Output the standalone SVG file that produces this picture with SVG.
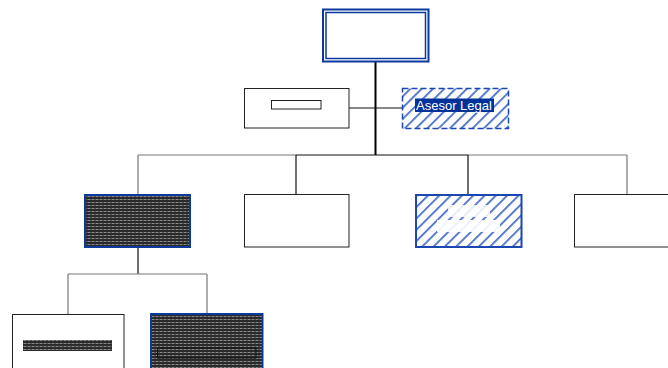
<svg xmlns="http://www.w3.org/2000/svg" width="668" height="368" viewBox="0 0 668 368">
<style>
.plain{fill:#fff;stroke:#222;stroke-width:1}
.dark{fill:url(#stripes);stroke:#0a3a9c;stroke-width:2}
.hatch{fill:url(#hatch);stroke:#1a47b0;stroke-width:2}
.c-dark{stroke:#111;stroke-width:1.2;fill:none}
.c-grey{stroke:#777;stroke-width:1.2;fill:none}
.c-thick{stroke:#000;stroke-width:2;fill:none}
.lbl{font-family:"Liberation Sans",Arial,sans-serif;font-size:13px;fill:#fff}
</style>
<defs>
<pattern id="stripes" width="4" height="3" patternUnits="userSpaceOnUse">
<rect width="4" height="3" fill="#2a2a2a"/>
<rect y="1" width="2" height="1" fill="#8a8a8a"/>
<rect x="2" y="1" width="2" height="1" fill="#5a5a5a"/>
</pattern>
<pattern id="hatch" width="8" height="8" patternUnits="userSpaceOnUse" patternTransform="rotate(45)">
<rect width="8" height="8" fill="#fff"/>
<rect x="0" y="0" width="1.8" height="8" fill="#4a70c8"/>
</pattern>
</defs>
<g id="connectors">
<path class="c-thick" d="M375.5 62V155"/>
<path class="c-dark" d="M349 108H402"/>
<path class="c-dark" d="M296 155H468"/>
<path class="c-grey" d="M138 155H296M468 155H627"/>
<path class="c-grey" d="M138 155V194M627 155V194"/>
<path class="c-dark" d="M296 155V194M468 155V194"/>
<path class="c-dark" d="M138 247V274"/>
<path class="c-grey" d="M68 274H207M68 274V314M207 274V313"/>
</g>
<g id="node-top">
<rect x="323" y="9.5" width="105.5" height="52" fill="#fff" stroke="#0a3a9c" stroke-width="2"/>
<rect x="326" y="12.5" width="99.5" height="46" fill="none" stroke="#0a3a9c" stroke-width="1.5"/>
</g>
<g id="node-staff-left">
<rect class="plain" x="244.5" y="88.5" width="104.5" height="39.5"/>
<rect class="plain" x="271.5" y="100.5" width="49.5" height="8.5"/>
</g>
<g id="node-asesor-legal">
<rect x="402.5" y="88.5" width="106" height="40" fill="url(#hatch)" stroke="#1a47b0" stroke-width="1.5" stroke-dasharray="6 3"/>
<rect x="415" y="98.5" width="79" height="13.5" fill="#003399"/>
<text class="lbl" x="416" y="110">Asesor Legal</text>
</g>
<g id="node-l2-1">
<rect class="dark" x="85" y="195" width="105" height="52"/>
</g>
<g id="node-l2-2">
<rect class="plain" x="244.5" y="194.5" width="104.5" height="52.5"/>
</g>
<g id="node-l2-3">
<rect class="hatch" x="416" y="195" width="105.5" height="52"/>
<rect x="448" y="205" width="42" height="12" fill="#fff" opacity="0.85"/>
<rect x="437" y="220" width="63" height="12" fill="#fff" opacity="0.9"/>
</g>
<g id="node-l2-4">
<rect class="plain" x="574.5" y="194.5" width="100" height="52.5"/>
</g>
<g id="node-l3-1">
<rect class="plain" x="12.5" y="314.5" width="111.5" height="60"/>
<rect x="23" y="340" width="89" height="11" fill="url(#stripes)"/>
</g>
<g id="node-l3-2">
<rect class="dark" x="151" y="314" width="111.5" height="60"/>
<rect x="157.5" y="348" width="98.5" height="10" fill="none" stroke="#111" stroke-width="1"/>
</g>
</svg>
